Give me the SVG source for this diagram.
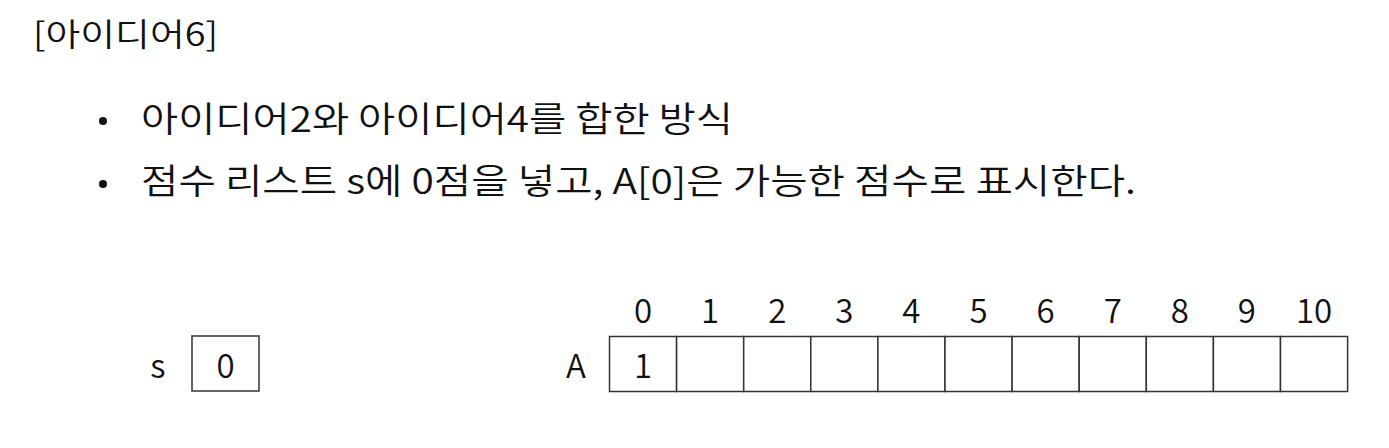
<svg xmlns="http://www.w3.org/2000/svg" width="1389" height="448" viewBox="0 0 1389 448">
<style>
text{font-family:"Noto Sans CJK KR","Noto Sans",sans-serif;fill:#111;font-weight:350}
.t{font-size:32px}
.b{font-size:35px}
.n{font-size:33px;text-anchor:middle}
.cell{fill:#fff;stroke:#333;stroke-width:1.5}
</style>
<rect width="1389" height="448" fill="#fff"/>
<g id="title"><text class="t" x="33" y="46" textLength="185" lengthAdjust="spacingAndGlyphs">[아이디어6]</text></g>
<g id="bullets">
<circle cx="103" cy="121" r="4" fill="#111"/>
<text class="b" x="141" y="132" textLength="592" lengthAdjust="spacingAndGlyphs">아이디어2와 아이디어4를 합한 방식</text>
<circle cx="103" cy="184" r="4" fill="#111"/>
<text class="b" x="141" y="194" textLength="995" lengthAdjust="spacingAndGlyphs">점수 리스트 s에 0점을 넣고, A[0]은 가능한 점수로 표시한다.</text>
</g>
<g id="s">
<text class="n" x="158" y="378">s</text>
<rect class="cell" x="192" y="336" width="67" height="55"/>
<text class="n" x="225.5" y="378">0</text>
</g>
<g id="A">
<text class="n" x="576" y="378">A</text>
<rect class="cell" x="609.5" y="336.5" width="67.1" height="55"/>
<rect class="cell" x="676.6" y="336.5" width="67.1" height="55"/>
<rect class="cell" x="743.7" y="336.5" width="67.1" height="55"/>
<rect class="cell" x="810.8" y="336.5" width="67.1" height="55"/>
<rect class="cell" x="877.9" y="336.5" width="67.1" height="55"/>
<rect class="cell" x="945.0" y="336.5" width="67.1" height="55"/>
<rect class="cell" x="1012.1" y="336.5" width="67.1" height="55"/>
<rect class="cell" x="1079.2" y="336.5" width="67.1" height="55"/>
<rect class="cell" x="1146.3" y="336.5" width="67.1" height="55"/>
<rect class="cell" x="1213.4" y="336.5" width="67.1" height="55"/>
<rect class="cell" x="1280.5" y="336.5" width="67.1" height="55"/>
<text class="n" x="643" y="378">1</text>
<text class="n" x="643" y="323">0</text>
<text class="n" x="710.1" y="323">1</text>
<text class="n" x="777.2" y="323">2</text>
<text class="n" x="844.3" y="323">3</text>
<text class="n" x="911.4" y="323">4</text>
<text class="n" x="978.5" y="323">5</text>
<text class="n" x="1045.6" y="323">6</text>
<text class="n" x="1112.7" y="323">7</text>
<text class="n" x="1179.8" y="323">8</text>
<text class="n" x="1246.9" y="323">9</text>
<text class="n" x="1314" y="323">10</text>
</g>
<g id="connectors"/>
</svg>
